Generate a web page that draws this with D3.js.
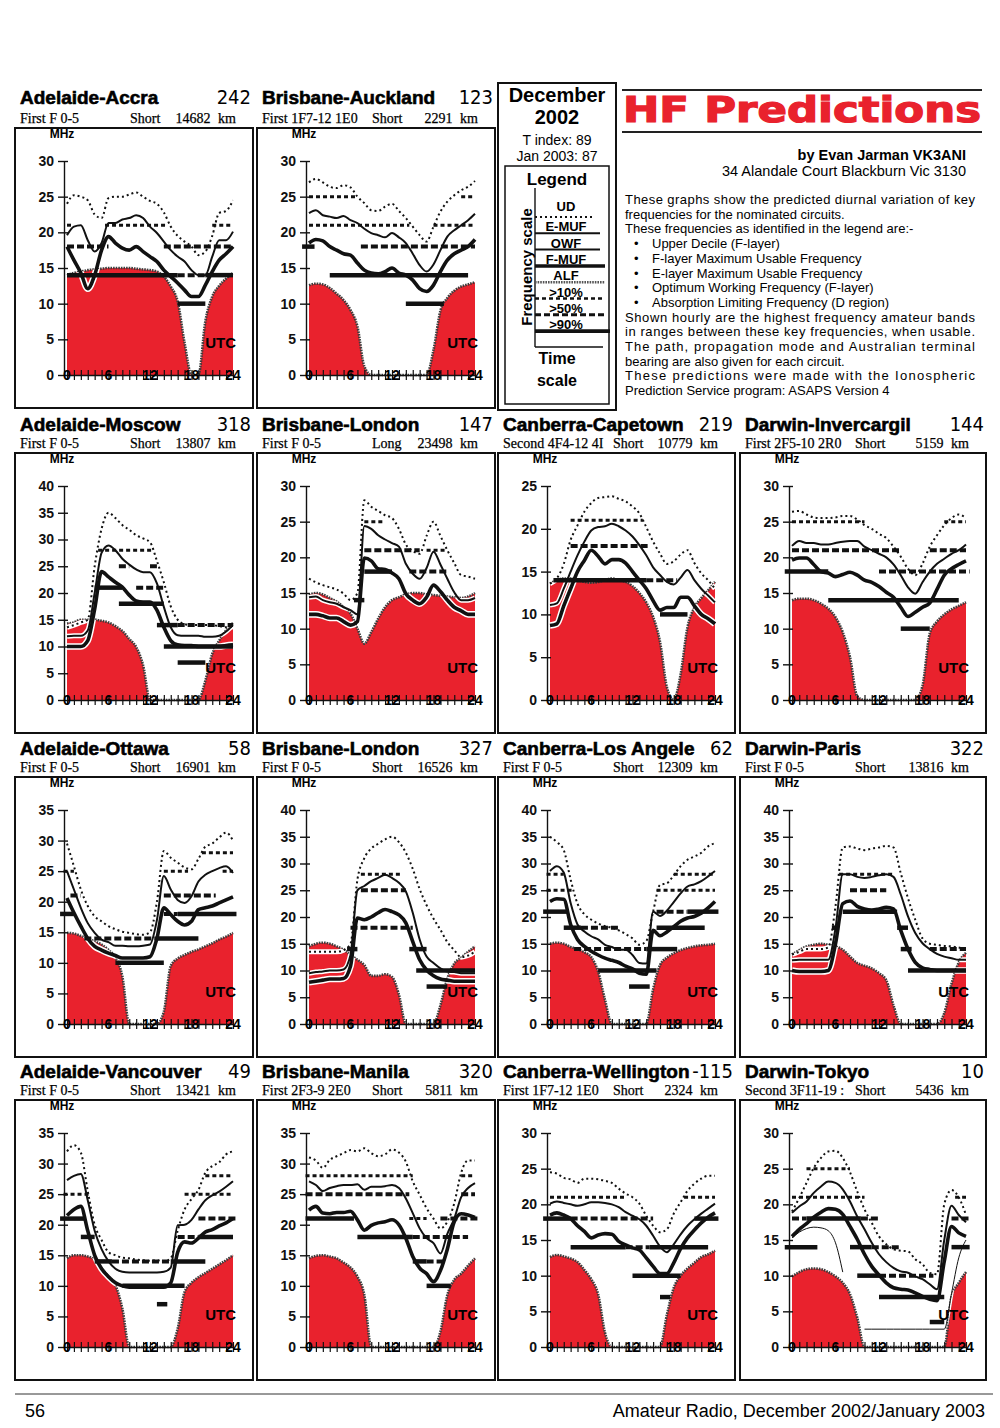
<!DOCTYPE html>
<html>
<head>
<meta charset="utf-8">
<script src="https://cdn.jsdelivr.net/npm/d3@7"></script>
<style>
	body { margin: 0; background: #fff; }
	svg { display: block; }
</style>
</head>
<body>
<div id="chart"></div>
<script>
// circuits
var routes = ['Adelaide-Accra', 'Brisbane-Auckland', 'Adelaide-Moscow', 'Brisbane-London', 'Canberra-Capetown', 'Darwin-Invercargil',
	'Adelaide-Ottawa', 'Brisbane-London', 'Canberra-Los Angele', 'Darwin-Paris', 'Adelaide-Vancouver', 'Brisbane-Manila',
	'Canberra-Wellington', 'Darwin-Tokyo'];
var bearings = ['242', '123', '318', '147', '219', '144', '58', '327', '62', '322', '49', '320', '-115', '10'];
var modes = ['First F 0-5', 'First 1F7-12 1E0', 'First F 0-5', 'First F 0-5', 'Second 4F4-12 4I', 'First 2F5-10 2R0',
	'First F 0-5', 'First F 0-5', 'First F 0-5', 'First F 0-5', 'First F 0-5', 'First 2F3-9 2E0', 'First 1F7-12 1E0', 'Second 3F11-19 :'];
var paths = ['Short', 'Short', 'Short', 'Long', 'Short', 'Short', 'Short', 'Short', 'Short', 'Short', 'Short', 'Short', 'Short', 'Short'];
var distances = ['14682 km', '2291 km', '13807 km', '23498 km', '10779 km', '5159 km', '16901 km', '16526 km', '12309 km',
	'13816 km', '13421 km', '5811 km', '2324 km', '5436 km'];
var y_max = [30, 30, 40, 30, 25, 30, 35, 40, 40, 40, 35, 35, 30, 30];
var hour_labels = [0, 6, 12, 18, 24];

// upper decile, hourly 0..24 UTC (MHz)
var ud_data = [
	[24,25.2,25,24.5,22.5,22,24.8,25,25,25.3,25.6,25,24.4,24,22.8,20.8,19.5,18.7,18,16.8,17.3,19.5,22.7,23,24.5],
	[27,27.5,27,26.4,26.2,26.6,26.3,25,24.1,23.1,23,23.6,24,23,22,20.8,19.6,18.7,20.8,22.9,24.3,25.2,25.9,26.4,27.2],
	[13.6,14,14.5,15,25,32,35,34,32.7,31.8,30.8,30.2,29.5,26,22,17.5,15,14.2,14,14,14,14,13.8,13.6,13.7],
	[17,16.5,16.1,15.8,15.5,14.9,14,15,28,27.1,26.5,25.9,25.5,24,21.8,20.9,20.5,23,25,23,21,19.2,17.5,17.3,17],
	[13.6,14.2,15.9,18.7,20.4,22,23,23.6,23.7,23.8,23.5,23.2,22.6,21.8,20.2,18.5,17.1,15.9,16.2,17,17.5,16,14.8,14,13],
	[26.4,26.5,26,25.6,25.5,25.5,25.6,25.8,25.8,25.3,24.5,24,23.3,22.7,21.5,20.1,18.4,17.5,19.1,21.5,23.1,24.5,25.5,26,25.5],
	[29.5,25.8,22,19.3,17.6,16.8,16,15.5,15.1,14.9,14.7,14.6,15,20,28.3,27.2,26.4,25.6,25.3,27,29,29.5,30.5,31.3,30],
	[13.5,13.5,13.5,13.5,13.5,13.8,15,27,31,32.8,33.7,34.5,35,34,32,29,25.2,22.2,19.7,17.6,15.3,13.8,12.5,12.8,13.5],
	[35,34,32.5,27,22.5,20.5,19.5,18.8,18.3,18,17.5,16.8,16,14.8,15.5,21,26,26.3,27.8,29.5,30.7,31.3,32,33.2,33.8],
	[13,13.5,14,14,14,14.3,22,33,33.2,32.8,32.5,32.8,33,33.3,33,28.2,23.5,19.5,16,15,14.8,14.6,14.5,14.3,14],
	[32,33,31.8,25.5,20,17.5,15.5,15,14.6,14.5,14.3,14.2,14.1,14.2,14,14.5,19,22.5,24.2,25.7,28.5,29.6,30.2,31.5,32],
	[31,30.5,29.3,30.6,31.2,31.7,32.2,32,32.5,31.7,31.2,31.5,32.3,31.8,30.3,27.1,24.9,22.7,21,19.4,20.5,23.5,28.5,30.5,30.5],
	[24.5,24.3,23.7,23.5,23,23.6,23.6,23.5,23.3,23,22.2,21.5,21,20.1,18.4,17,16.1,16.5,18.7,20.3,21.9,22.9,23.6,24,24],
	[19,20.9,23,25.1,26.5,27.4,27.5,26.5,24.5,21.8,19.3,17.4,15.5,14.4,13.7,13.5,13.4,12.3,11.6,10.4,10.2,20,22,21,18.5]
];

// F-layer MUF
var muf_data = [
	[19.6,20.8,21,18.9,17.3,18.5,21.3,21.3,21.8,22,22.4,22,20.8,19.9,18.7,17.5,16.6,15.9,14.7,14,14,16.6,18.9,18.9,20.1],
	[22.7,23.1,22.4,22.2,22,22.3,21.7,21.3,20.5,19.9,19.6,19.3,19.9,19.3,18.5,17,15.4,14.5,15.5,17.5,19.4,20.3,21,21.7,22.6],
	[11.9,12,12,13,20,27.5,28.9,28,26.4,25.3,24.4,23.9,23.9,21.8,17.4,13.6,12.1,12,12,12,11.8,11.8,12,12.8,14],
	[14.4,14.5,14,13.7,13.5,13,12.6,12,24.4,24,23.1,22.5,22,21.5,19.1,17.7,17,18.5,20.8,19,17,15.1,14,14,14.3],
	[11.1,11.3,13,15,16.9,18.5,19.8,20.2,20.3,20.6,20.3,19.8,19.1,18.1,16.9,15.5,14.6,13.8,13.5,14.3,15.2,14,13,12.2,11.4],
	[21.6,22.3,22,22,21.8,21.8,22,22.2,22.3,22.3,21.5,21,20.5,20,19,17.5,15.8,14.9,16.5,18,19.1,19.8,20.5,21,21.8],
	[25,22,19,16.5,14.9,13.8,13.4,12.8,12.8,12.7,12.7,12.8,13,17,24.2,22,20.3,19.8,20.9,23.3,24.4,25,25.5,25.8,24.7],
	[9.5,9.7,9.8,10,10,10.2,12.9,25,25.8,26.7,27.3,27.9,27.3,26.4,24.8,20.8,15.8,12.6,11.4,10.4,9.8,9.7,9.5,9.5,9.5],
	[28.6,29.5,28.3,22.6,18.6,17.3,16.4,15.8,14.8,14.4,13.9,13.9,12.9,11.4,11.3,21,20.2,21.2,22.8,24.4,25.7,26.1,26.7,27.6,28.6],
	[11.9,12,12,12,12,12,17.9,28,28,27.5,27.3,27.5,27.8,28,27.5,24.2,20.1,17,15.1,14,13.1,12.6,12.3,12,12],
	[27.3,28,28.3,24,19,16,14,12.8,12.3,12.2,12.2,12.2,12.2,12.2,12.3,13,19.9,20,20.8,22.5,24,24.8,25.4,26.2,27.1],
	[27.1,26.5,25.5,26,26.3,26.5,26.5,26.6,25.7,26.2,26.2,26.3,26.5,26,24.3,21.9,19.4,17.8,17,15.3,18.5,21,24.5,26,26.8],
	[20.1,20.4,20.2,20,19.8,20,20.3,20.3,20.2,20,19.6,18.9,18.4,17.9,17,15.6,14.1,13.3,14.4,15.8,17,17.9,18.7,19.4,20.1],
	[18.8,19.7,20.4,21.6,22.5,23.2,23,22.1,20.4,18.3,16.5,14.6,13,11.9,11.1,10.6,10.4,9.9,9.5,8.8,8.1,15,19.8,18.5,17.5]
];

// optimum working frequency
var owf_data = [
	[18,16.1,14.3,12.1,14,17.5,19.4,18.5,17.8,17.5,18,17.3,16.6,15.9,14.7,13.8,12.9,11.9,11,11,12.6,14.5,16.1,17,18],
	[18.5,19,18.8,18,17.5,17,16.8,15.7,14.7,14.3,14.2,14.5,15,14.3,14,13.3,12.1,11.7,12.6,14.5,16.1,17,17.5,18,19],
	[10,10,10,11.1,17,24,23,22,21.1,19.6,18.5,18.3,18.3,16.8,13.6,11.1,10.3,10.2,10.2,10,10,10,10,10.2,10.3],
	[12,12,11.8,11.5,11.5,11,10.5,11,19.9,19.5,18.4,18.3,17.8,17,14.9,14,13.5,14.4,16.1,15.2,14,13,12.5,12,12],
	[8.7,8.9,11,13,15,16.3,17.5,16.8,15.9,16.4,16.4,16,15,14,13,11.6,10.5,10.8,10.8,12,12,11,10,9.5,8.9],
	[19.6,19.9,19.9,19,18,17.8,17.3,17.6,17.9,17.5,16.8,16.5,15.9,15.1,14.4,13,11.7,12.3,13,13.6,15.5,17.5,18.4,19,19.5],
	[20.6,18.2,16,14,12.7,12.1,11.6,11.2,10.8,10.8,10.8,10.8,11,14,19,17.9,16.8,16.2,16.8,18.7,19,19.3,19.8,20.3,20.8],
	[7.8,8,8.2,8.4,8.4,8.5,10.8,19.8,19.5,20,20.8,21.4,21,20.4,18.9,15.4,12,10.1,9,8.4,8.2,8,8,8,8],
	[22.9,23.4,23.3,18.6,15.8,14.5,13.6,12.9,12.3,11.9,11.5,10.8,10.3,9.5,9.3,17.5,16.5,17.2,18.2,19.2,19.8,20.1,20.7,21.7,22.9],
	[10,9.8,9.8,9.8,9.8,10,15,22.5,23,22,21.5,21.3,21.5,21.8,21.5,17.5,14,11.5,10.5,10.2,10,10,10,10,10],
	[21.5,22.5,23,19,15,12.8,11.5,10.5,10,9.8,9.8,9.8,9.8,9.8,9.8,10.5,15.5,17.2,17,17.8,18.8,19.2,19.8,20.3,21],
	[22.4,23,21.9,21.8,22,22,22.2,20.8,19.1,19.9,20.3,20.5,20.8,20,17.8,14.8,12.9,12,10.7,12.5,16,20.5,21.8,21.6,21.2],
	[18.5,18.8,18.5,18,17,16.2,15.3,15.7,15.9,15.8,14.8,14.3,13.9,13.6,12.5,11.3,10.3,10.3,11.8,13.8,15.3,16.4,17.4,18.2,18.8],
	[15.5,16.5,17.3,18.2,18.9,19.4,19.3,18.6,16.9,15.1,13,11.3,10.1,9,8.3,8.1,8,7.6,7.1,6.7,6.5,12,16.9,16,15.5]
];

// absorption limiting frequency
var alf_data = [
	[14,14.3,14.5,14.7,14.8,14.9,15,15,15,15,14.9,14.8,14.7,14.5,13.8,12.4,10.3,4.5,0,0,7.5,11,12.5,13.5,14.3],
	[12.6,12.8,12.7,12.2,11.4,10.5,9.1,6.8,1.2,0,0,0,0,0,0,0,0,0,3.5,9,10.8,11.8,12.4,12.7,13],
	[14.3,14.5,15,15,15,14.8,14.5,13.8,12.9,11.4,9.9,6.5,0,0,0,0,0,0,0,0,3.6,8.6,11.1,13,14.4],
	[14.7,15,14.8,14.3,13.8,13,12.1,10,7.9,9.5,11.4,13,14,14.4,14.8,15,15,14.8,14.7,14.6,14.5,14.4,14.3,14.5,15],
	[13.6,14,14.2,14.2,14,13.8,13.7,13.8,14,14.2,14,13.8,13.3,12.5,11.4,9.7,6.8,1.5,0,3,8.5,10.8,11.9,12.8,13.8],
	[14,14.2,14.2,14,13.5,12.8,11.6,9.5,6,0.5,0,0,0,0,0,0,0,0,2,9.3,11,12,12.7,13.2,13.7],
	[14.9,14.8,14.4,14,13.5,13,12.1,10.8,7.8,0,0,0,0,0,2,9.5,10.7,11.3,11.8,12.2,12.7,13.2,13.8,14.3,14.9],
	[14.5,15,15.2,15,14.5,13.9,12.9,12,11,9,9,9.3,8.8,5.5,0,0,0,0,0,3.5,8.5,11.3,12.4,13.5,14.5],
	[15,15.2,15,14.4,14,13.4,12.5,9.8,4.5,0,0,0,0,0,0,6.5,11,12.4,13.2,13.8,14.2,14.5,14.7,14.8,15],
	[13,13.8,14.5,14.8,15,14.8,14.5,13.9,12.6,11.4,10.9,10.4,9.5,8.2,3.5,0,0,0,0,0,0,2,7.5,11.5,13.3],
	[14.5,15,15,14.8,14.3,12.9,11.5,10.1,6.3,0,0,0,0,0,0,0,3,9,10.5,11.4,12.1,12.8,13.5,14.2,15],
	[14.5,14.9,15,14.8,14.5,13.8,13,11.5,8.5,0,0,0,0,0,0,0,0,0,0,2.5,8.5,11,12,13.3,14.5],
	[12.6,12.9,12.7,12.4,11.9,10.8,9.5,7.4,2,0,0,0,0,0,0,0,0,4.5,8.3,10,11,11.8,12.6,13,13.5],
	[9.9,10.5,10.9,11,10.9,10.5,9.9,9,7.4,4.1,0,0,0,0,0,0,0,0,0,0,0,0,7,9,10.5]
];

// E-layer MUF, drawn only where the program plotted it (Darwin-Tokyo)
var tokyo_emuf = [15.3,16.1,16.6,16.8,16.7,16.3,14.6,10.5,null,null,2.5,2.5,2.5,2.5,2.5,2.5,2.5,2.5,2.5,2.5,2.5,2.5,7.5,12.5,15];

// amateur bands: [from hour, to hour, MHz, level 1 >10% / 2 >50% / 3 >90%]
var band_data = [
	[[0,1,21,1],[5.5,14.5,21,1],[21,24,21,1],[0,6,18,2],[14,24,18,2],[0,16,14,3],[16,20,14,2],[20,24,14,3],[16,20,10,3]],
	[[0,7,25,1],[22,24,25,1],[0,14.5,21,1],[18,24,21,1],[-1,0.8,18,3],[7.5,24,18,2],[3,23,14,3],[14,19.5,10,3]],
	[[4.5,12.5,28,1],[7.5,9,25,2],[12,13,25,2],[4,8,21,3],[10,14,21,2],[7.5,14,18,3],[13,16,14,3],[16,24,14,2],[14,24,10,3],[16,20,7,3]],
	[[8,11,25,1],[8,16,21,2],[17,20,21,1],[8,12,18,3],[14.5,20,18,2],[6.5,8,14,3]],
	[[3,13.5,21,1],[3,14.5,18,2],[0.5,14,14,3],[14,18.5,14,2],[16,20,10,3]],
	[[0,10,25,1],[21,24,25,1],[0,15,21,2],[19,24,21,2],[-1,5,18,3],[12,24.5,18,2],[5,23,14,3],[15,19,10,3]],
	[[19.5,24,28,1],[-0.5,1,25,1],[14,17.5,25,1],[22.5,24,25,1],[0.5,2,21,2],[14,21.5,21,2],[-1,1,18,3],[14,16,18,2],[16,24.5,18,3],[2.5,13,14,2],[13,19,14,3],[7,14,10,3]],
	[[7.5,13.5,28,1],[7.5,14,25,2],[6,15,18,2],[5.5,7,14,3],[14.5,17,14,3],[15.5,24,10,3],[17,20,7,3]],
	[[-0.5,2,28,1],[18,24,28,1],[-0.5,3.5,25,1],[15.5,24,25,1],[-1,2.5,21,3],[15.5,20,21,2],[20,24.5,21,3],[2,4.5,18,3],[4.5,10,18,2],[15.5,22.5,18,3],[3.5,14,14,2],[14,18.5,14,3],[7,15.5,10,3],[11.5,14.5,7,3]],
	[[6.5,14,28,1],[8,13,25,2],[7,14.5,21,3],[5.5,6.5,18,3],[14.5,16,18,3],[15,16.5,14,3],[19,24,14,2],[16,24,10,3]],
	[[20,24,28,1],[-0.5,3.5,25,1],[17,24,25,1],[-1,2.5,21,3],[19,24.5,21,2],[2,4,18,3],[16,19,18,2],[19,24,18,3],[4,6.5,14,3],[6.5,15,14,2],[15,20,14,3],[8,17,10,3],[13,14.5,7,3]],
	[[-0.5,15,28,1],[22,24,28,1],[-0.5,14.5,25,2],[22,24,25,2],[-0.5,6.5,21,3],[14.5,17,21,1],[19,24.5,21,2],[7,15,18,3],[15,23,18,2],[15,17,14,3],[17,19.5,14,2],[17,20.5,10,3]],
	[[0,11,21,1],[19.5,24,21,1],[-1,3,18,3],[3,15,18,2],[21,24.5,18,3],[3,11,14,3],[11,14.5,14,2],[14.5,23,14,3],[12,19,10,3],[16,17.5,7,3]],
	[[2,8,25,1],[0,10,21,1],[22.5,24,21,1],[0,2,18,2],[2,9.5,18,3],[9.5,12,18,2],[22,24.5,18,2],[-1,3.5,14,3],[8,11,14,3],[11,15,14,2],[22,24.5,14,3],[9,12,10,3],[12,19.5,10,2],[12,21,7,3],[19,21,3.5,3]]
];

var legend_labels = ['UD', 'E-MUF', 'OWF', 'F-MUF', 'ALF', '>10%', '>50%', '>90%'];

var intro_lines = [
	'These graphs show the predicted diurnal variation of key',
	'frequencies for the nominated circuits.',
	'These frequencies as identified in the legend are:-',
	'\u2022Upper Decile (F-layer)',
	'\u2022F-layer Maximum Usable Frequency',
	'\u2022E-layer Maximum Usable Frequency',
	'\u2022Optimum Working Frequency (F-layer)',
	'\u2022Absorption Limiting Frequency (D region)',
	'Shown hourly are the highest frequency amateur bands',
	'in ranges between these key frequencies, when usable.',
	'The path, propagation mode and Australian terminal',
	'bearing are also given for each circuit.',
	'These predictions were made with the Ionospheric',
	'Prediction Service program: ASAPS Version 4'
];
var justified = [0, 8, 9, 10, 12];

var sans = 'Liberation Sans, Arial, Helvetica, sans-serif';
var serif = 'Liberation Serif, Times New Roman, serif';
var narrow = 'Liberation Sans Narrow, DejaVu Sans Condensed, sans-serif';
var red = '#e9222d';

var col_left = [15, 257, 498, 740];
var col_right = [253, 495, 735, 986];
var row_top = [128, 453, 777, 1100];

var svg = d3.select('#chart')
	.append('svg')
		.attr('width', 1000)
		.attr('height', 1428)
		.style('background', '#fff');

function band_style(sel) {
	sel.style('stroke', '#111')
		.style('stroke-width', function(d) { return d[3] == 3 ? 4.5 : (d[3] == 2 ? 4 : 3); })
		.style('stroke-dasharray', function(d) { return d[3] == 3 ? null : (d[3] == 2 ? '7,3' : '4,3'); });
}

function draw_panel(i) {
	var row = i < 2 ? 0 : 1 + Math.floor((i - 2) / 4);
	var col = i < 2 ? i : (i - 2) % 4;
	var left = col_left[col], right = col_right[col], top = row_top[row];
	var axis_x = left + 49;
	var title_y = top - (row == 0 ? 24 : 22);

	var g = svg.append('g');

	// headings
	g.append('text')
		.attr('x', left + 5)
		.attr('y', title_y)
		.text(routes[i])
		.style('font-family', sans)
		.style('font-weight', 'bold')
		.style('font-size', '19px')
		.style('stroke', '#000')
		.style('stroke-width', 0.6);
	g.append('text')
		.attr('x', right - 2)
		.attr('y', title_y)
		.attr('text-anchor', 'end')
		.text(bearings[i])
		.style('font-family', narrow)
		.style('font-size', '20px');
	g.append('text')
		.attr('x', left + 5)
		.attr('y', top - 5)
		.text(modes[i])
		.style('font-family', serif)
		.style('font-size', '14px')
		.style('stroke', '#000')
		.style('stroke-width', 0.25);
	g.append('text')
		.attr('x', left + 115)
		.attr('y', top - 5)
		.text(paths[i])
		.style('font-family', serif)
		.style('font-size', '14px')
		.style('stroke', '#000')
		.style('stroke-width', 0.25);
	g.append('text')
		.attr('x', right - 17)
		.attr('y', top - 5)
		.attr('text-anchor', 'end')
		.text(distances[i])
		.style('font-family', serif)
		.style('font-size', '14px')
		.style('word-spacing', '4px')
		.style('stroke', '#000')
		.style('stroke-width', 0.25);

	g.append('rect')
		.attr('x', left)
		.attr('y', top)
		.attr('width', right - left)
		.attr('height', 280)
		.style('fill', 'none')
		.style('stroke', '#111')
		.style('stroke-width', 2);

	var x = d3.scaleLinear().domain([0, 24]).range([axis_x + 3, right - 20]);
	var y = d3.scaleLinear().domain([0, y_max[i]]).range([top + 247, top + 33]);

	var line = d3.line()
		.defined(function(d) { return d != null; })
		.x(function(d, h) { return x(h); })
		.y(function(d) { return y(d); })
		.curve(d3.curveMonotoneX);
	var area = d3.area()
		.x(function(d, h) { return x(h); })
		.y0(y(0))
		.y1(function(d) { return y(d); })
		.curve(d3.curveMonotoneX);

	// absorption region
	g.append('clipPath')
		.attr('id', 'alf' + i)
		.append('path')
			.attr('d', area(alf_data[i]));
	g.append('path')
		.attr('d', area(alf_data[i]))
		.style('fill', red);
	g.append('path')
		.attr('d', line(alf_data[i]))
		.style('fill', 'none')
		.style('stroke', '#3d3d3d')
		.style('stroke-width', 2.6)
		.style('stroke-dasharray', '1.6,1');

	var series = [
		{data: ud_data[i], width: 2, dash: '2,3'},
		{data: muf_data[i], width: 2, dash: null},
		{data: owf_data[i], width: 3.6, dash: null}
	];
	if (i == 13) series.push({data: tokyo_emuf, width: 1, dash: null});

	// white halo where curves run through the red area
	series.forEach(function(s) {
		g.append('path')
			.attr('d', line(s.data))
			.attr('clip-path', 'url(#alf' + i + ')')
			.style('fill', 'none')
			.style('stroke', '#fff')
			.style('stroke-width', s.width + 3);
	});
	series.forEach(function(s) {
		g.append('path')
			.attr('d', line(s.data))
			.style('fill', 'none')
			.style('stroke', '#111')
			.style('stroke-width', s.width)
			.style('stroke-dasharray', s.dash);
	});

	// bands
	g.selectAll('band')
		.data(band_data[i])
		.enter()
		.append('line')
			.attr('x1', function(d) { return x(d[0]); })
			.attr('x2', function(d) { return x(d[1]); })
			.attr('y1', function(d) { return y(d[2]); })
			.attr('y2', function(d) { return y(d[2]); })
			.call(band_style);

	// y axis
	g.append('g')
		.attr('transform', 'translate(' + axis_x + ',0)')
		.call(d3.axisLeft(y).tickValues(d3.range(0, y_max[i] + 1, 5)).tickSizeInner(6).tickSizeOuter(0).tickPadding(4))
		.call(function(a) {
			a.select('.domain').style('stroke', '#111').style('stroke-width', 1.4);
			a.selectAll('.tick line').style('stroke', '#111').style('stroke-width', 1.4);
			a.selectAll('.tick').append('line').attr('x2', 4).style('stroke', '#111').style('stroke-width', 1.4);
			a.selectAll('text')
				.style('font-family', sans)
				.style('font-weight', 'bold')
				.style('font-size', '14px')
				.style('fill', '#111');
		});

	// x axis
	g.append('g')
		.attr('transform', 'translate(0,' + y(0) + ')')
		.call(d3.axisBottom(x).tickValues(d3.range(0, 25)).tickSizeInner(5).tickSizeOuter(0).tickFormat(''))
		.call(function(a) {
			a.select('.domain').style('stroke', '#111').style('stroke-width', 1.4);
			a.selectAll('.tick line').attr('y1', -5).style('stroke', '#111').style('stroke-width', 1.2);
		});
	g.selectAll('hour_label')
		.data(hour_labels)
		.enter()
		.append('text')
			.attr('x', function(d) { return x(d); })
			.attr('y', y(0) + 5)
			.attr('text-anchor', 'middle')
			.text(function(d) { return d; })
			.style('font-family', sans)
			.style('font-weight', 'bold')
			.style('font-size', '14px');

	g.append('text')
		.attr('x', axis_x - 2)
		.attr('y', top + 10)
		.attr('text-anchor', 'middle')
		.text('MHz')
		.style('font-family', sans)
		.style('font-weight', 'bold')
		.style('font-size', '12px');
	g.append('text')
		.attr('x', x(24) + 3)
		.attr('y', y(0) - 27)
		.attr('text-anchor', 'end')
		.text('UTC')
		.style('font-family', sans)
		.style('font-weight', 'bold')
		.style('font-size', '15px');
}

for (var i = 0; i < routes.length; i++) {
	draw_panel(i);
}

// date and legend box
svg.append('rect')
	.attr('x', 498).attr('y', 83).attr('width', 118).attr('height', 327)
	.style('fill', 'none').style('stroke', '#111').style('stroke-width', 2);
var head = [['December', 102, 20, 'bold'], ['2002', 124, 20, 'bold'], ['T index: 89', 145, 14, 'normal'], ['Jan 2003: 87', 161, 14, 'normal']];
svg.selectAll('head')
	.data(head)
	.enter()
	.append('text')
		.attr('x', 557)
		.attr('y', function(d) { return d[1]; })
		.attr('text-anchor', 'middle')
		.text(function(d) { return d[0]; })
		.style('font-family', sans)
		.style('font-weight', function(d) { return d[3]; })
		.style('font-size', function(d) { return d[2] + 'px'; });
svg.append('rect')
	.attr('x', 505).attr('y', 166).attr('width', 104).attr('height', 238)
	.style('fill', 'none').style('stroke', '#111').style('stroke-width', 1.5);
svg.append('text')
	.attr('x', 557).attr('y', 185).attr('text-anchor', 'middle').text('Legend')
	.style('font-family', sans).style('font-weight', 'bold').style('font-size', '17px');
svg.append('line').attr('x1', 535).attr('x2', 535).attr('y1', 188).attr('y2', 347).style('stroke', '#111').style('stroke-width', 1.4);
svg.append('line').attr('x1', 535).attr('x2', 603).attr('y1', 347).attr('y2', 347).style('stroke', '#111').style('stroke-width', 1.4);
svg.append('text')
	.attr('transform', 'translate(532,267) rotate(-90)')
	.attr('text-anchor', 'middle')
	.text('Frequency scale')
	.style('font-family', sans).style('font-weight', 'bold').style('font-size', '15px');

var legend_style = [
	{w: 2, dash: '2,3', c: '#111', end: 592},
	{w: 2, dash: null, c: '#111', end: 600},
	{w: 2, dash: null, c: '#111', end: 600},
	{w: 3.5, dash: null, c: '#111', end: 605},
	{w: 2.6, dash: '1.6,1', c: '#555', end: 605},
	{w: 2.5, dash: '4,3', c: '#111', end: 605},
	{w: 3, dash: '6,3', c: '#111', end: 605},
	{w: 3.8, dash: null, c: '#111', end: 610}
];
var legend_text_y = function(k) { return k == 0 ? 211 : 215 + k * 16.3; };
var legend_line_y = function(k) { return k == 0 ? 217 : legend_text_y(k) + 2; };
svg.selectAll('legend_label')
	.data(legend_labels)
	.enter()
	.append('text')
		.attr('x', 566)
		.attr('y', function(d, k) { return legend_text_y(k); })
		.attr('text-anchor', 'middle')
		.text(function(d) { return d; })
		.style('font-family', sans)
		.style('font-weight', 'bold')
		.style('font-size', '13px');
svg.selectAll('legend_line')
	.data(legend_labels)
	.enter()
	.append('line')
		.attr('x1', 535)
		.attr('x2', function(d, k) { return legend_style[k].end; })
		.attr('y1', function(d, k) { return legend_line_y(k); })
		.attr('y2', function(d, k) { return legend_line_y(k); })
		.style('stroke', function(d, k) { return legend_style[k].c; })
		.style('stroke-width', function(d, k) { return legend_style[k].w; })
		.style('stroke-dasharray', function(d, k) { return legend_style[k].dash; });
svg.append('text').attr('x', 557).attr('y', 364).attr('text-anchor', 'middle').text('Time')
	.style('font-family', sans).style('font-weight', 'bold').style('font-size', '16px');
svg.append('text').attr('x', 557).attr('y', 386).attr('text-anchor', 'middle').text('scale')
	.style('font-family', sans).style('font-weight', 'bold').style('font-size', '16px');

// page header
svg.append('line').attr('x1', 622).attr('x2', 982).attr('y1', 90).attr('y2', 90).style('stroke', '#222').style('stroke-width', 2);
svg.append('line').attr('x1', 622).attr('x2', 982).attr('y1', 132).attr('y2', 132).style('stroke', '#222').style('stroke-width', 2);
svg.append('text')
	.attr('x', 623)
	.attr('y', 122)
	.attr('textLength', 358)
	.attr('lengthAdjust', 'spacingAndGlyphs')
	.text('HF Predictions')
	.style('font-family', 'DejaVu Sans, sans-serif')
	.style('font-weight', 'bold')
	.style('font-size', '35px')
	.style('fill', red)
	.style('stroke', red)
	.style('stroke-width', 1.2);
svg.append('text')
	.attr('x', 966).attr('y', 160).attr('text-anchor', 'end').text('by Evan Jarman VK3ANI')
	.style('font-family', sans).style('font-weight', 'bold').style('font-size', '14.5px');
svg.append('text')
	.attr('x', 966).attr('y', 176).attr('text-anchor', 'end').text('34 Alandale Court Blackburn Vic 3130')
	.style('font-family', sans).style('font-size', '14.5px');

svg.selectAll('intro')
	.data(intro_lines)
	.enter()
	.append('text')
		.attr('x', function(d) { return d.charAt(0) == '\u2022' ? 652 : 625; })
		.attr('y', function(d, k) { return 204 + k * 14.7; })
		.attr('textLength', function(d, k) { return justified.indexOf(k) >= 0 ? 350 : null; })
		.attr('lengthAdjust', 'spacing')
		.text(function(d) { return d.charAt(0) == '\u2022' ? d.slice(1) : d; })
		.style('font-family', sans)
		.style('font-size', '13px');
svg.selectAll('bullet')
	.data(intro_lines.filter(function(d) { return d.charAt(0) == '\u2022'; }))
	.enter()
	.append('text')
		.attr('x', 634)
		.attr('y', function(d) { return 204 + intro_lines.indexOf(d) * 14.7; })
		.text('\u2022')
		.style('font-family', sans)
		.style('font-size', '13px');

// footer
svg.append('line').attr('x1', 15).attr('x2', 993).attr('y1', 1394).attr('y2', 1394).style('stroke', '#333').style('stroke-width', 1);
svg.append('text').attr('x', 25).attr('y', 1417).text('56')
	.style('font-family', sans).style('font-size', '18px');
svg.append('text').attr('x', 985).attr('y', 1417).attr('text-anchor', 'end').text('Amateur Radio, December 2002/January 2003')
	.style('font-family', sans).style('font-size', '18px');
</script>
</body>
</html>
